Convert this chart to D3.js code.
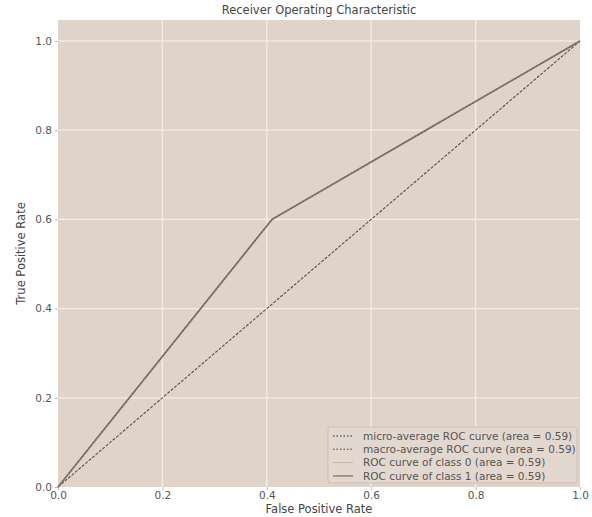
<!DOCTYPE html>
<html><head><meta charset="utf-8">
<script src="https://cdn.jsdelivr.net/npm/d3@7"></script>
<style>body{margin:0;background:#fff}svg{display:block}text{font-family:"DejaVu Sans",sans-serif}</style>
</head><body><svg id="c" width="592" height="517"></svg>
<script>
const fprMicro = [0, 0.41, 1];
const tprMicro = [0, 0.6, 1];
const fprMacro = [0, 0.41, 1];
const tprMacro = [0, 0.6, 1];
const fprClass0 = [0, 0.41, 1];
const tprClass0 = [0, 0.6, 1];
const fprClass1 = [0, 0.41, 1];
const tprClass1 = [0, 0.6, 1];
const xTicks = [0, 0.2, 0.4, 0.6, 0.8, 1.0];
const yTicks = [0, 0.2, 0.4, 0.6, 0.8, 1.0];
const legendLabels = ["micro-average ROC curve (area = 0.59)","macro-average ROC curve (area = 0.59)","ROC curve of class 0 (area = 0.59)","ROC curve of class 1 (area = 0.59)"];

const svg = d3.select("#c");
const L=58,R=580,T=20,B=487;
const x=d3.scaleLinear().domain([0,1]).range([L,R]);
const y=d3.scaleLinear().domain([0,1.047]).range([B,T]);
svg.append("rect").attr("x",L).attr("y",T).attr("width",R-L).attr("height",B-T).attr("fill","#e0d3ca");
const g=svg.append("g");
xTicks.forEach(t=>{ if(t>0&&t<1) g.append("line").attr("x1",x(t)).attr("x2",x(t)).attr("y1",T).attr("y2",B).attr("stroke","#f6ede6").attr("stroke-width",1.3);});
yTicks.forEach(t=>{ if(t>0) g.append("line").attr("y1",y(t)).attr("y2",y(t)).attr("x1",L).attr("x2",R).attr("stroke","#f6ede6").attr("stroke-width",1.3);});
const xa=svg.append("g").attr("transform",`translate(0,${B})`).call(d3.axisBottom(x).tickValues(xTicks).tickFormat(d3.format(".1f")).tickSize(3).tickPadding(2));
const ya=svg.append("g").attr("transform",`translate(${L},0)`).call(d3.axisLeft(y).tickValues(yTicks).tickFormat(d3.format(".1f")).tickSize(3).tickPadding(3));
[xa,ya].forEach(a=>{a.select(".domain").remove();a.selectAll("line").attr("stroke","#bbb");a.selectAll("text").attr("fill","#555").attr("font-size",10.5);});
const line=d3.line().x(d=>x(d[0])).y(d=>y(d[1]));
const pts=(a,b)=>a.map((v,i)=>[v,b[i]]);
// diagonal
svg.append("path").attr("d",line([[0,0],[1,1]])).attr("stroke","#5a4f48").attr("stroke-width",1.1).attr("stroke-dasharray","3,1.5").attr("fill","none");
svg.append("path").attr("d",line(pts(fprClass0,tprClass0))).attr("stroke","#c9b9ad").attr("stroke-width",1).attr("fill","none");
svg.append("path").attr("d",line(pts(fprClass1,tprClass1))).attr("stroke","#a08f80").attr("stroke-width",1.8).attr("fill","none");
svg.append("path").attr("d",line(pts(fprMicro,tprMicro))).attr("stroke","#6d5f55").attr("stroke-width",1.5).attr("stroke-dasharray","1.5,2").attr("fill","none");
svg.append("path").attr("d",line(pts(fprMacro,tprMacro))).attr("stroke","#7a6b60").attr("stroke-width",1.3).attr("stroke-dasharray","1.5,2").attr("stroke-dashoffset",1.7).attr("fill","none");
// title and labels
svg.append("text").attr("x",(L+R)/2).attr("y",14).attr("text-anchor","middle").attr("font-size",11.5).attr("fill","#444").text("Receiver Operating Characteristic");
svg.append("text").attr("x",(L+R)/2).attr("y",513).attr("text-anchor","middle").attr("font-size",11.5).attr("fill","#444").text("False Positive Rate");
svg.append("text").attr("transform",`translate(25,${(T+B)/2}) rotate(-90)`).attr("text-anchor","middle").attr("font-size",11.5).attr("fill","#444").text("True Positive Rate");
// legend
const lg=svg.append("g").attr("transform","translate(328,427)");
lg.append("rect").attr("width",249).attr("height",56).attr("rx",2).attr("fill","#e3d8d0").attr("stroke","#cdbfb5").attr("stroke-width",1);
const styles=[{c:"#6d5f55",w:1.5,d:"1.5,2"},{c:"#7a6b60",w:1.4,d:"1.5,2"},{c:"#c9b9ad",w:1,d:null},{c:"#a08f80",w:1.8,d:null}];
legendLabels.forEach((t,i)=>{const yy=9+i*13.3;
  const l=lg.append("line").attr("x1",5).attr("x2",25).attr("y1",yy).attr("y2",yy).attr("stroke",styles[i].c).attr("stroke-width",styles[i].w);
  if(styles[i].d) l.attr("stroke-dasharray",styles[i].d);
  lg.append("text").attr("x",35).attr("y",yy+3.8).attr("font-size",10.5).attr("fill","#555").text(t);
});
</script></body></html>
